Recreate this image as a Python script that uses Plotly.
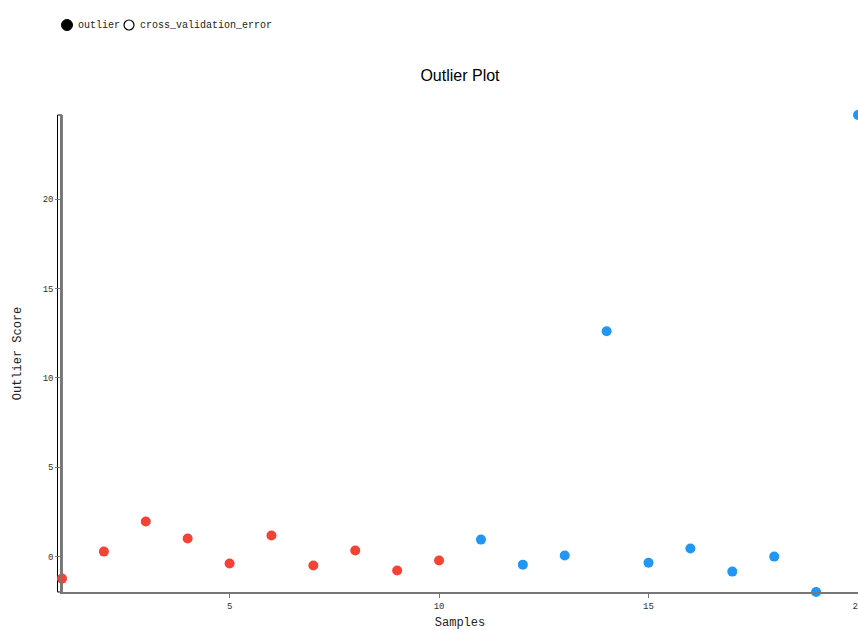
import plotly.graph_objects as go

# Outlier scores per sample
samples_red = [1, 2, 3, 4, 5, 6, 7, 8, 9, 10]
scores_red = [-1.23, 0.28, 1.96, 1.01, -0.39, 1.18, -0.50, 0.34, -0.78, -0.22]
samples_blue = [11, 12, 13, 14, 15, 16, 17, 18, 19, 20]
scores_blue = [0.95, -0.45, 0.06, 12.6, -0.34, 0.45, -0.84, 0.0, -1.98, 24.7]

legend_labels = ["outlier", "cross_validation_error"]
x_ticks = [5, 10, 15, 20]
y_ticks = [0, 5, 10, 15, 20]

RED = "#F44336"
BLUE = "#2196F3"
MONO = "Liberation Mono, DejaVu Sans Mono, monospace"

W, H = 858, 630
L, R, T, B = 62, 0, 115, 38
PW = W - L - R
PH = H - T - B


def px_x(p):
    return (p - L) / PW


def px_y(p):
    return (H - B - p) / PH


fig = go.Figure()
fig.add_trace(go.Scatter(
    x=samples_red, y=scores_red, mode="markers",
    marker=dict(color=RED, size=10, line=dict(width=0)),
    cliponaxis=False, showlegend=False,
))
fig.add_trace(go.Scatter(
    x=samples_blue, y=scores_blue, mode="markers",
    marker=dict(color=BLUE, size=10, line=dict(width=0)),
    cliponaxis=False, showlegend=False,
))

ymin = min(scores_red + scores_blue)
ymax = max(scores_red + scores_blue)

axis_common = dict(
    showgrid=False, zeroline=False, showline=True, linecolor="#777",
    linewidth=1.5, ticks="outside", tickcolor="#777",
    ticklabeloverflow="allow",
    tickfont=dict(family=MONO, size=9, color="#333"),
)

fig.update_layout(
    width=W, height=H,
    margin=dict(l=L, r=R, t=T, b=B, autoexpand=False),
    paper_bgcolor="white", plot_bgcolor="white",
    title=dict(text="Outlier Plot", x=(L + PW / 2) / W, xanchor="center",
               y=1 - 75 / H, yanchor="middle",
               font=dict(family="Liberation Sans, Arial, sans-serif", size=16, color="#000")),
    xaxis=dict(range=[1, 20.0001], tickvals=x_ticks, ticklen=4,
               title=dict(text="Samples", standoff=15,
                          font=dict(family=MONO, size=12, color="#222")),
               **axis_common),
    yaxis=dict(range=[ymin, ymax], tickvals=y_ticks, ticklen=5,
               title=dict(text="Outlier Score", standoff=18,
                          font=dict(family=MONO, size=12, color="#222")),
               **axis_common),
    showlegend=False,
)

# frame beside the y axis
fig.add_shape(type="rect", xref="paper", yref="paper",
              x0=px_x(57.5), x1=px_x(62), y0=0, y1=1,
              line=dict(color="black", width=1), fillcolor="rgba(0,0,0,0)",
              layer="below")

# legend: filled and hollow circles with labels
legend_y = px_y(25)
fig.add_shape(type="circle", xref="paper", yref="paper",
              xsizemode="pixel", ysizemode="pixel",
              xanchor=px_x(67), yanchor=legend_y,
              x0=-5.5, x1=5.5, y0=-5.5, y1=5.5,
              fillcolor="black", line=dict(color="black", width=1))
fig.add_shape(type="circle", xref="paper", yref="paper",
              xsizemode="pixel", ysizemode="pixel",
              xanchor=px_x(129), yanchor=legend_y,
              x0=-5, x1=5, y0=-5, y1=5,
              fillcolor="white", line=dict(color="black", width=1.2))
fig.add_annotation(text=legend_labels[0], xref="paper", yref="paper",
                   x=px_x(76), y=legend_y, xanchor="left", yanchor="middle",
                   showarrow=False, font=dict(family=MONO, size=10, color="#222"))
fig.add_annotation(text=legend_labels[1], xref="paper", yref="paper",
                   x=px_x(138), y=legend_y, xanchor="left", yanchor="middle",
                   showarrow=False, font=dict(family=MONO, size=10, color="#222"))

fig.write_html("out.html")
